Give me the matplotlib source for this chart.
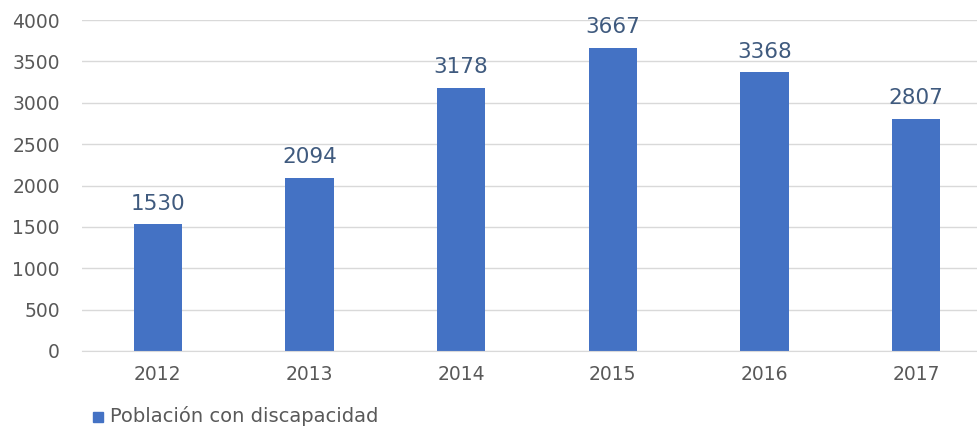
import matplotlib.pyplot as plt
from matplotlib.patches import Rectangle

years = ["2012", "2013", "2014", "2015", "2016", "2017"]
values = [1530, 2094, 3178, 3667, 3368, 2807]
series_name = "Población con discapacidad"

plt.rcParams["font.family"] = ["DejaVu Sans"]

fig = plt.figure(figsize=(9.78, 4.26), dpi=100)
ax = fig.add_axes([82 / 978, 75 / 426, 910 / 978, 331 / 426])

x = range(len(years))
ax.bar(x, values, width=0.32, color="#4472C4", zorder=2)

# data labels above bars
for xi, v in zip(x, values):
    ax.text(xi, v + 130, str(v), ha="center", va="bottom",
            fontsize=15.5, color="#3F5A7E")

ax.set_xlim(-0.5, len(years) - 0.5)
ax.set_ylim(0, 4000)
ax.set_yticks(range(0, 4001, 500))
ax.set_xticks(list(x))
ax.set_xticklabels(years)
ax.yaxis.grid(True, color="#D9D9D9", linewidth=1, zorder=0)
for s in ["top", "right", "left"]:
    ax.spines[s].set_visible(False)
ax.spines["bottom"].set_color("#D9D9D9")
ax.tick_params(axis="both", length=0, labelsize=13.5, labelcolor="#595959")
ax.tick_params(axis="y", pad=16)
ax.tick_params(axis="x", pad=10)

# legend at bottom left
fig.patches.append(Rectangle((93 / 978, 1 - 422 / 426), 10 / 978, 10 / 426,
                             transform=fig.transFigure, color="#4472C4"))
fig.text(110 / 978, 1 - 416 / 426, series_name, fontsize=14,
         color="#595959", va="center", ha="left")

fig.savefig("out.png", dpi=100)
